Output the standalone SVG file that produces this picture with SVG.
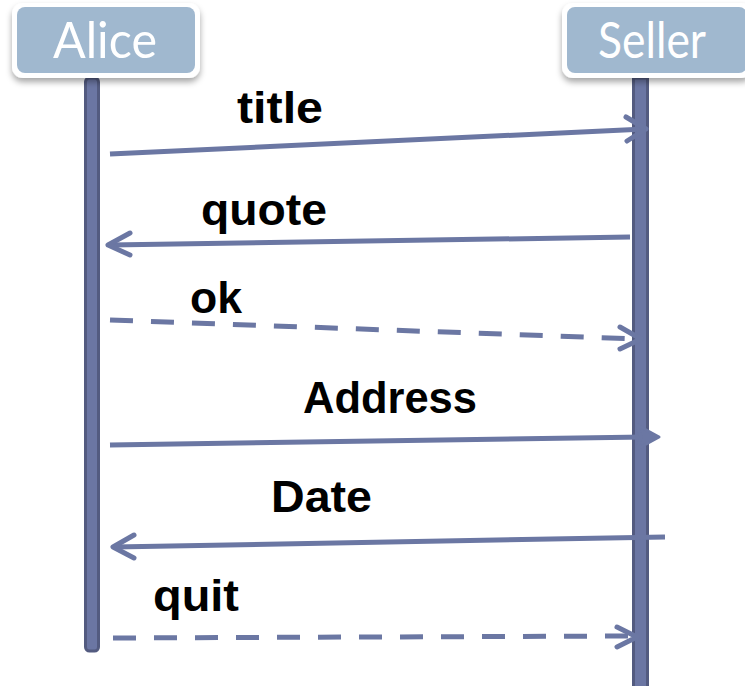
<svg xmlns="http://www.w3.org/2000/svg" width="745" height="686" viewBox="0 0 745 686">
<style>
.box-o{fill:#ffffff;filter:url(#sh)}
.box-i{fill:#a0b8cf}
.name{font-family:Lato,"Open Sans","Liberation Sans",sans-serif;font-size:51px;fill:#ffffff}
.life{fill:#6b76a3;stroke:#535b80;stroke-width:3}
.msg{stroke:#6b77a3;stroke-width:5;fill:none}
.dash{stroke-dasharray:23 18}
.head{stroke:#6b77a3;stroke-width:5;fill:none;stroke-linecap:round;stroke-linejoin:round}
.lbl{font-family:"Liberation Sans",Arial,sans-serif;font-weight:bold;font-size:44px;fill:#000000}
</style>
<defs>
<filter id="sh" x="-10%" y="-20%" width="120%" height="150%">
<feDropShadow dx="0" dy="4" stdDeviation="3" flood-color="#000000" flood-opacity="0.35"/>
</filter>
</defs>
<g id="alice">
<rect class="life" x="85.5" y="78" width="13" height="573" rx="4"/>
<rect class="box-o" x="12" y="3" width="188" height="75" rx="11"/>
<rect class="box-i" x="17" y="7" width="178" height="66" rx="8"/>
<text class="name" x="53" y="58" textLength="104" lengthAdjust="spacingAndGlyphs">Alice</text>
</g>
<g id="seller">
<rect class="life" x="633.5" y="78" width="14" height="615"/>
<rect class="box-o" x="562" y="3" width="190" height="75" rx="11"/>
<rect class="box-i" x="567" y="7" width="180" height="66" rx="8"/>
<text class="name" x="598" y="58" textLength="108" lengthAdjust="spacingAndGlyphs">Seller</text>
</g>
<g id="connectors">
<g id="m-title">
<line class="msg" x1="110" y1="154" x2="645" y2="129"/>
<polyline class="head" points="626,117 646,129 627,141"/>
<text class="lbl" x="237" y="123" textLength="86" lengthAdjust="spacingAndGlyphs">title</text>
</g>
<g id="m-quote">
<line class="msg" x1="630" y1="237" x2="110" y2="245"/>
<polyline class="head" points="130,233 108,245 130,255"/>
<text class="lbl" x="201" y="225" textLength="126" lengthAdjust="spacingAndGlyphs">quote</text>
</g>
<g id="m-ok">
<line class="msg dash" x1="110" y1="320" x2="638" y2="339"/>
<polyline class="head" points="620,327 641,339 620,349"/>
<text class="lbl" x="190" y="313" textLength="52" lengthAdjust="spacingAndGlyphs">ok</text>
</g>
<g id="m-address">
<line class="msg" x1="110" y1="445" x2="645" y2="437"/>
<polygon points="659,437 637,425 641,437 637,449" fill="#6b77a3" stroke="#6b77a3" stroke-width="3" stroke-linejoin="round"/>
<text class="lbl" x="303" y="413" textLength="174" lengthAdjust="spacingAndGlyphs">Address</text>
</g>
<g id="m-date">
<line class="msg" x1="665" y1="537" x2="114" y2="547"/>
<polyline class="head" points="134,535 113,547 134,558"/>
<text class="lbl" x="271" y="512" textLength="101" lengthAdjust="spacingAndGlyphs">Date</text>
</g>
<g id="m-quit">
<line class="msg dash" x1="113" y1="638" x2="634" y2="636"/>
<polyline class="head" points="617,627 637,637 617,647"/>
<text class="lbl" x="153" y="611" textLength="86" lengthAdjust="spacingAndGlyphs">quit</text>
</g>
</g>
</svg>
